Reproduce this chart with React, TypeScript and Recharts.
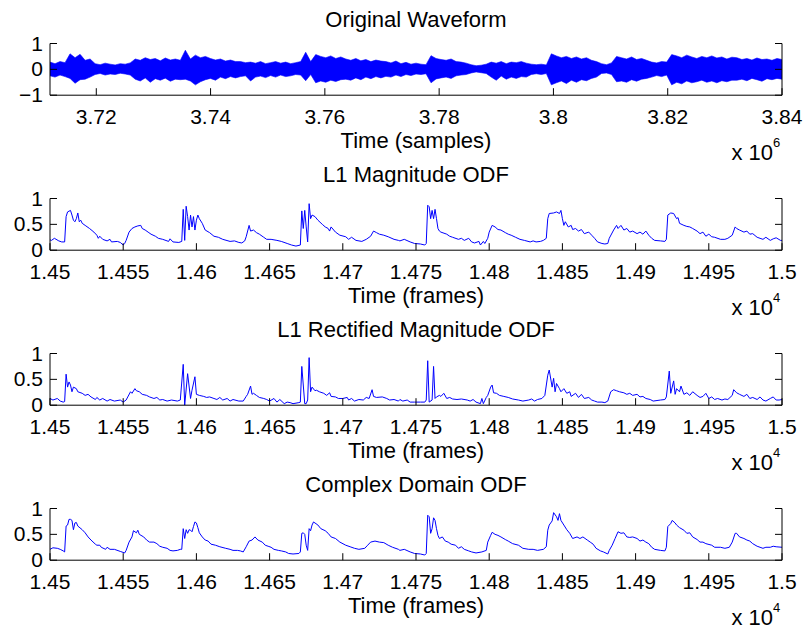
import React from 'react';
import { ComposedChart, Line, Area, XAxis, YAxis } from 'recharts';

const FONT = '"Liberation Sans", Arial, Helvetica, sans-serif';
const BLUE = '#0000ff';
const INK = '#000000';

// ---- Original waveform (envelope of the samples) ----
const waveStart = 3711900;
const waveEnd = 3840000;
const waveHi = [
  0.28, 0.22, 0.3, 0.26, 0.6, 0.45, 0.58, 0.35, 0.4,
  0.22, 0.18, 0.24, 0.2, 0.17, 0.22, 0.2, 0.25,
  0.4, 0.35, 0.45, 0.38, 0.42, 0.33, 0.44, 0.36, 0.4, 0.35,
  0.74, 0.4, 0.55, 0.45, 0.5,
  0.42, 0.36, 0.4, 0.32, 0.36, 0.3,
  0.3, 0.26, 0.28, 0.24, 0.3, 0.22, 0.26, 0.3, 0.24, 0.28, 0.22, 0.26,
  0.3, 0.66, 0.3, 0.57, 0.5, 0.45, 0.52, 0.42, 0.48,
  0.4, 0.35, 0.42, 0.33, 0.38, 0.3, 0.36, 0.32,
  0.3, 0.25, 0.32, 0.22, 0.27, 0.2, 0.24, 0.2, 0.18,
  0.53, 0.42, 0.38, 0.35, 0.4, 0.3, 0.28, 0.24,
  0.18, 0.14, 0.16, 0.2,
  0.28, 0.24, 0.3, 0.22, 0.28, 0.26, 0.3, 0.24,
  0.2, 0.18, 0.2, 0.17,
  0.6, 0.52, 0.45, 0.5, 0.42, 0.48, 0.4, 0.45, 0.35, 0.3,
  0.22, 0.18, 0.25, 0.5, 0.45, 0.4, 0.48, 0.38, 0.42, 0.35,
  0.28, 0.25, 0.3, 0.28, 0.57,
  0.52, 0.45, 0.55, 0.48, 0.42, 0.5, 0.45, 0.52, 0.44, 0.48, 0.4, 0.47,
  0.45, 0.38, 0.42, 0.36, 0.44, 0.38, 0.4, 0.35, 0.42, 0.38,
];
const waveLo = [
  -0.25, -0.3, -0.22, -0.28, -0.35, -0.54, -0.4, -0.38, -0.3,
  -0.2, -0.16, -0.22, -0.18, -0.2, -0.15, -0.18, -0.22,
  -0.38, -0.45, -0.33, -0.5, -0.36, -0.42, -0.34, -0.46, -0.38, -0.4,
  -0.38, -0.45, -0.6, -0.48, -0.4,
  -0.35, -0.42, -0.3, -0.36, -0.28, -0.33,
  -0.28, -0.25, -0.45, -0.3, -0.26, -0.32, -0.24, -0.3, -0.22, -0.28, -0.25, -0.2,
  -0.22, -0.44, -0.2, -0.52, -0.45, -0.5, -0.42, -0.47, -0.4,
  -0.38, -0.42, -0.33, -0.4, -0.3, -0.36, -0.28, -0.33,
  -0.27, -0.3, -0.22, -0.28, -0.2, -0.24, -0.18, -0.2, -0.17,
  -0.52, -0.37, -0.33, -0.3, -0.35, -0.25, -0.22, -0.2,
  -0.14, -0.1, -0.13, -0.16,
  -0.3, -0.42, -0.26, -0.38, -0.3, -0.35, -0.28, -0.3,
  -0.2, -0.17, -0.2, -0.16,
  -0.6, -0.52, -0.45, -0.55, -0.42, -0.5, -0.4, -0.44, -0.35, -0.3,
  -0.16, -0.14, -0.2, -0.48, -0.45, -0.5, -0.4, -0.46, -0.38, -0.35,
  -0.3, -0.24, -0.28, -0.22, -0.6,
  -0.5, -0.56, -0.45, -0.52, -0.48, -0.42, -0.5, -0.45, -0.52, -0.44, -0.48, -0.42,
  -0.42, -0.38, -0.44, -0.35, -0.4, -0.46, -0.36, -0.4, -0.35, -0.38,
];
const waveTicks = [3720000, 3740000, 3760000, 3780000, 3800000, 3820000, 3840000];
const waveYTicks = [-1, 0, 1];

// ---- Onset detection functions, [frame, value] ----
const frameStart = 14500;
const frameEnd = 15000;
const frameTicks = [14500, 14550, 14600, 14650, 14700, 14750, 14800, 14850, 14900, 14950, 15000];
const odfYTicks = [0, 0.5, 1];

const l1MagOdf: [number, number][] = [
  [14500, 0.2], [14501, 0.19], [14503, 0.23], [14506, 0.18], [14508, 0.16], [14510, 0.16],
  [14511, 0.65], [14512, 0.74], [14514, 0.77], [14515, 0.68], [14516, 0.58], [14517, 0.55],
  [14518, 0.61], [14519, 0.72], [14520, 0.55], [14521, 0.58], [14522, 0.52], [14524, 0.48],
  [14527, 0.42], [14530, 0.35], [14532, 0.29], [14533, 0.23], [14534, 0.27], [14536, 0.21],
  [14539, 0.18], [14541, 0.21], [14542, 0.16], [14546, 0.17], [14548, 0.15], [14550, 0.1],
  [14551, 0.13], [14552, 0.19], [14554, 0.35], [14556, 0.42], [14558, 0.45], [14560, 0.47],
  [14562, 0.48], [14563, 0.42], [14565, 0.39], [14567, 0.35], [14569, 0.31], [14572, 0.27],
  [14574, 0.23], [14577, 0.21], [14581, 0.17], [14582, 0.22], [14584, 0.16], [14588, 0.15],
  [14590, 0.17], [14591, 0.79], [14592, 0.19], [14593, 0.85], [14594, 0.65], [14595, 0.39],
  [14596, 0.68], [14597, 0.45], [14598, 0.65], [14599, 0.39], [14600, 0.58], [14601, 0.68],
  [14602, 0.61], [14604, 0.52], [14606, 0.39], [14609, 0.34], [14612, 0.27], [14615, 0.25],
  [14618, 0.21], [14623, 0.17], [14626, 0.18], [14629, 0.15], [14631, 0.14], [14633, 0.18],
  [14634, 0.26], [14636, 0.48], [14637, 0.37], [14639, 0.39], [14641, 0.34], [14643, 0.31],
  [14646, 0.25], [14648, 0.21], [14651, 0.21], [14655, 0.19], [14658, 0.17], [14662, 0.13],
  [14665, 0.1], [14668, 0.08], [14671, 0.1], [14672, 0.76], [14673, 0.42], [14674, 0.77],
  [14675, 0.45], [14676, 0.16], [14677, 0.9], [14678, 0.61], [14679, 0.68], [14681, 0.65],
  [14683, 0.58], [14686, 0.5], [14688, 0.45], [14690, 0.42], [14691, 0.37], [14692, 0.45],
  [14695, 0.35], [14698, 0.29], [14702, 0.26], [14704, 0.21], [14706, 0.25], [14709, 0.19],
  [14713, 0.17], [14716, 0.21], [14719, 0.27], [14721, 0.37], [14723, 0.34], [14725, 0.31],
  [14728, 0.29], [14731, 0.26], [14735, 0.21], [14738, 0.19],
  [14739, 0.18], [14742, 0.21], [14746, 0.16], [14749, 0.13], [14753, 0.12], [14756, 0.1],
  [14757, 0.13], [14758, 0.87], [14759, 0.84], [14760, 0.61], [14761, 0.77], [14762, 0.61],
  [14763, 0.79], [14764, 0.61], [14765, 0.42], [14766, 0.37], [14767, 0.35], [14771, 0.31],
  [14773, 0.27], [14775, 0.25], [14779, 0.21], [14781, 0.23], [14783, 0.19], [14786, 0.23],
  [14788, 0.16], [14790, 0.14], [14793, 0.17], [14794, 0.1], [14796, 0.17], [14797, 0.13],
  [14799, 0.23], [14800, 0.35], [14802, 0.48], [14804, 0.45], [14806, 0.4], [14808, 0.39],
  [14811, 0.34], [14813, 0.31], [14815, 0.29], [14818, 0.25], [14821, 0.21], [14824, 0.19],
  [14828, 0.16], [14830, 0.18], [14832, 0.16], [14835, 0.17], [14837, 0.19], [14839, 0.23],
  [14840, 0.61], [14841, 0.71], [14844, 0.72], [14846, 0.74], [14848, 0.71], [14849, 0.77],
  [14850, 0.61], [14851, 0.48], [14852, 0.55], [14854, 0.45], [14856, 0.48], [14857, 0.4],
  [14859, 0.42], [14861, 0.37], [14863, 0.4], [14865, 0.32], [14868, 0.35], [14870, 0.29],
  [14872, 0.23], [14874, 0.16], [14877, 0.13], [14879, 0.12], [14881, 0.13], [14882, 0.23],
  [14885, 0.39], [14887, 0.48], [14888, 0.42], [14890, 0.48], [14892, 0.39], [14894, 0.42],
  [14896, 0.35], [14898, 0.37], [14901, 0.32], [14903, 0.35], [14905, 0.31], [14907, 0.37],
  [14909, 0.29], [14911, 0.23], [14913, 0.19], [14917, 0.18], [14920, 0.17], [14921, 0.21],
  [14922, 0.68], [14924, 0.72], [14926, 0.71], [14928, 0.61], [14929, 0.63], [14930, 0.52],
  [14933, 0.48], [14935, 0.46], [14937, 0.45], [14939, 0.42], [14942, 0.37], [14944, 0.32],
  [14946, 0.35], [14948, 0.27], [14950, 0.31], [14952, 0.26], [14954, 0.25], [14958, 0.21],
  [14961, 0.21], [14963, 0.23], [14966, 0.29], [14968, 0.45], [14969, 0.42], [14971, 0.39],
  [14974, 0.35], [14976, 0.37], [14978, 0.31], [14980, 0.32], [14983, 0.25], [14985, 0.23],
  [14987, 0.21], [14989, 0.25], [14992, 0.19], [14994, 0.22], [14996, 0.24], [14999, 0.19],
  [15000, 0.19],
];

const l1RectOdf: [number, number][] = [
  [14500, 0.13], [14502, 0.1], [14505, 0.13], [14507, 0.08], [14509, 0.06], [14510, 0.07],
  [14511, 0.6], [14512, 0.35], [14513, 0.45], [14514, 0.39], [14515, 0.26], [14516, 0.35],
  [14518, 0.32], [14519, 0.26], [14522, 0.23], [14524, 0.19], [14526, 0.21], [14528, 0.16],
  [14531, 0.11], [14532, 0.15], [14534, 0.1], [14536, 0.13], [14539, 0.08], [14541, 0.11],
  [14544, 0.08], [14548, 0.1], [14550, 0.06], [14552, 0.1], [14555, 0.26], [14556, 0.23],
  [14558, 0.32], [14559, 0.28], [14561, 0.26], [14563, 0.21], [14566, 0.19], [14568, 0.16],
  [14571, 0.13], [14573, 0.15], [14575, 0.1], [14577, 0.11], [14580, 0.08], [14583, 0.1],
  [14587, 0.08], [14589, 0.1], [14591, 0.79], [14592, 0], [14594, 0.61], [14596, 0.13],
  [14597, 0.29], [14599, 0.55], [14600, 0.21], [14602, 0.19], [14605, 0.17], [14607, 0.15],
  [14609, 0.16], [14612, 0.13], [14614, 0.11], [14616, 0.15], [14618, 0.1], [14621, 0.13],
  [14623, 0.08], [14625, 0.11], [14629, 0.08], [14632, 0.08], [14634, 0.17], [14635, 0.21],
  [14637, 0.37], [14638, 0.21], [14639, 0.23], [14641, 0.19], [14643, 0.15], [14646, 0.13],
  [14648, 0.11], [14650, 0.08], [14653, 0.13], [14655, 0.06], [14657, 0.11], [14660, 0.03],
  [14662, 0.06], [14664, 0.05], [14666, 0.03], [14670, 0.05], [14671, 0.06], [14672, 0.75],
  [14674, 0.03], [14675, 0.03], [14676, 0.1], [14677, 0.92], [14678, 0.26], [14679, 0.35],
  [14681, 0.28], [14682, 0.29], [14684, 0.26], [14687, 0.23], [14689, 0.19], [14691, 0.24],
  [14692, 0.17], [14695, 0.16], [14697, 0.13], [14700, 0.13], [14703, 0.15], [14704, 0.1],
  [14706, 0.13], [14708, 0.08], [14711, 0.11], [14714, 0.1], [14716, 0.15], [14718, 0.13],
  [14720, 0.3], [14721, 0.17], [14723, 0.15], [14727, 0.16], [14730, 0.13], [14732, 0.1],
  [14735, 0.11], [14738, 0.08],
  [14739, 0.11], [14741, 0.08], [14744, 0.1], [14746, 0.06], [14749, 0.06], [14753, 0.06],
  [14756, 0.06], [14757, 0.1], [14758, 0.86], [14759, 0.06], [14761, 0.1], [14762, 0.75],
  [14763, 0.13], [14764, 0.16], [14766, 0.19], [14767, 0.17], [14769, 0.23], [14771, 0.13],
  [14773, 0.15], [14775, 0.12], [14778, 0.11], [14781, 0.12], [14785, 0.1], [14787, 0.08],
  [14789, 0.11], [14791, 0.06], [14794, 0.03], [14795, 0.13], [14796, 0.03], [14798, 0.15],
  [14799, 0.19], [14801, 0.35], [14802, 0.39], [14803, 0.24], [14805, 0.23], [14807, 0.19],
  [14810, 0.17], [14813, 0.15], [14816, 0.12], [14820, 0.1], [14823, 0.08], [14827, 0.1],
  [14829, 0.12], [14831, 0.08], [14833, 0.11], [14836, 0.13], [14838, 0.19], [14840, 0.58],
  [14841, 0.68], [14843, 0.35], [14844, 0.52], [14845, 0.26], [14846, 0.42], [14848, 0.32],
  [14849, 0.26], [14851, 0.32], [14853, 0.23], [14855, 0.26], [14856, 0.17], [14859, 0.23],
  [14861, 0.15], [14863, 0.21], [14865, 0.13], [14868, 0.15], [14870, 0.1], [14872, 0.08],
  [14874, 0.06], [14877, 0.06], [14879, 0.05], [14881, 0.08], [14883, 0.26], [14885, 0.3],
  [14887, 0.28], [14889, 0.26], [14892, 0.24], [14894, 0.21], [14896, 0.23], [14898, 0.19],
  [14901, 0.21], [14903, 0.16], [14905, 0.17], [14907, 0.13], [14910, 0.11], [14912, 0.08],
  [14917, 0.1], [14920, 0.11], [14921, 0.16], [14923, 0.66], [14924, 0.23], [14926, 0.47],
  [14927, 0.21], [14928, 0.32], [14930, 0.26], [14931, 0.37], [14933, 0.21], [14935, 0.24],
  [14937, 0.19], [14939, 0.26], [14942, 0.19], [14944, 0.15], [14946, 0.17], [14948, 0.23],
  [14950, 0.13], [14952, 0.16], [14954, 0.11], [14956, 0.13], [14959, 0.1], [14961, 0.12],
  [14963, 0.11], [14966, 0.19], [14967, 0.3], [14969, 0.24], [14971, 0.21], [14974, 0.17],
  [14976, 0.21], [14978, 0.13], [14980, 0.15], [14983, 0.11], [14985, 0.16], [14987, 0.1],
  [14989, 0.08], [14992, 0.13], [14994, 0.16], [14996, 0.1], [14998, 0.1], [15000, 0.11],
];

const complexOdf: [number, number][] = [
  [14500, 0.21], [14502, 0.24], [14505, 0.23], [14507, 0.21], [14509, 0.18], [14510, 0.16],
  [14511, 0.66], [14512, 0.68], [14513, 0.79], [14514, 0.79], [14515, 0.77], [14516, 0.59],
  [14517, 0.72], [14518, 0.73], [14519, 0.66], [14522, 0.59], [14524, 0.53], [14526, 0.45],
  [14528, 0.39], [14531, 0.31], [14532, 0.29], [14534, 0.29], [14535, 0.25], [14538, 0.21],
  [14539, 0.25], [14541, 0.21], [14544, 0.21], [14548, 0.17], [14551, 0.14], [14552, 0.19],
  [14554, 0.35], [14556, 0.45], [14557, 0.57], [14559, 0.53], [14560, 0.58], [14561, 0.5],
  [14564, 0.45], [14566, 0.39], [14568, 0.35], [14571, 0.35], [14573, 0.32], [14575, 0.27],
  [14577, 0.25], [14580, 0.23], [14582, 0.19], [14584, 0.18], [14587, 0.19], [14589, 0.21],
  [14590, 0.21], [14591, 0.61], [14592, 0.42], [14593, 0.59], [14594, 0.52], [14595, 0.59],
  [14596, 0.58], [14597, 0.55], [14598, 0.65], [14599, 0.74], [14600, 0.72], [14601, 0.63],
  [14602, 0.53], [14604, 0.45], [14606, 0.39], [14608, 0.37], [14610, 0.31], [14613, 0.29],
  [14616, 0.26], [14620, 0.23], [14623, 0.21], [14625, 0.19], [14628, 0.19], [14630, 0.18],
  [14632, 0.16], [14634, 0.26], [14636, 0.37], [14638, 0.39], [14640, 0.45], [14642, 0.39],
  [14645, 0.35], [14647, 0.29], [14649, 0.27], [14651, 0.25], [14653, 0.21], [14656, 0.19],
  [14658, 0.18], [14661, 0.16], [14663, 0.13], [14666, 0.12], [14670, 0.13], [14671, 0.16],
  [14672, 0.52], [14673, 0.53], [14674, 0.5], [14675, 0.29], [14676, 0.19], [14677, 0.61],
  [14678, 0.57], [14679, 0.68], [14680, 0.74], [14681, 0.72], [14683, 0.68], [14685, 0.61],
  [14688, 0.57], [14690, 0.52], [14692, 0.45], [14695, 0.42], [14698, 0.35], [14702, 0.29],
  [14705, 0.26], [14708, 0.23], [14711, 0.21], [14715, 0.23], [14717, 0.29], [14719, 0.35],
  [14722, 0.37], [14725, 0.35], [14728, 0.34], [14731, 0.29], [14734, 0.25], [14738, 0.21],
  [14739, 0.19], [14742, 0.21], [14746, 0.16], [14749, 0.13], [14753, 0.12], [14756, 0.1],
  [14757, 0.13], [14758, 0.87], [14759, 0.84], [14760, 0.52], [14761, 0.61], [14762, 0.82],
  [14763, 0.77], [14764, 0.61], [14765, 0.48], [14766, 0.42], [14768, 0.45], [14770, 0.37],
  [14772, 0.35], [14774, 0.31], [14777, 0.29], [14779, 0.23], [14781, 0.26], [14783, 0.21],
  [14786, 0.18], [14788, 0.16], [14791, 0.14], [14795, 0.16], [14798, 0.19], [14799, 0.35],
  [14801, 0.48], [14802, 0.54], [14804, 0.5], [14806, 0.48], [14808, 0.45], [14811, 0.4],
  [14813, 0.37], [14816, 0.32], [14820, 0.29], [14823, 0.23], [14827, 0.21], [14830, 0.21],
  [14833, 0.19], [14837, 0.21], [14839, 0.26], [14840, 0.58], [14841, 0.68], [14843, 0.76],
  [14844, 0.92], [14846, 0.84], [14847, 0.77], [14848, 0.9], [14849, 0.77], [14851, 0.68],
  [14853, 0.59], [14855, 0.52], [14857, 0.42], [14860, 0.45], [14862, 0.42], [14864, 0.45],
  [14867, 0.39], [14869, 0.35], [14871, 0.31], [14873, 0.23], [14876, 0.18], [14878, 0.16],
  [14881, 0.12], [14882, 0.19], [14884, 0.29], [14886, 0.42], [14888, 0.55], [14890, 0.52],
  [14892, 0.53], [14894, 0.45], [14896, 0.44], [14898, 0.45], [14901, 0.42], [14903, 0.37],
  [14905, 0.39], [14907, 0.35], [14909, 0.32], [14911, 0.25], [14913, 0.21], [14917, 0.19],
  [14920, 0.18], [14921, 0.25], [14922, 0.65], [14924, 0.71], [14925, 0.77], [14927, 0.72],
  [14928, 0.68], [14930, 0.63], [14933, 0.58], [14935, 0.52], [14937, 0.53], [14939, 0.45],
  [14942, 0.4], [14944, 0.35], [14946, 0.35], [14948, 0.32], [14952, 0.29], [14954, 0.25],
  [14958, 0.25], [14961, 0.23], [14964, 0.25], [14966, 0.35], [14968, 0.52], [14969, 0.52],
  [14971, 0.45], [14974, 0.42], [14976, 0.39], [14978, 0.37], [14980, 0.32], [14983, 0.27],
  [14985, 0.25], [14987, 0.23], [14989, 0.25], [14992, 0.25], [14994, 0.27], [14996, 0.26],
  [15000, 0.25],
];

const panelTitles = ['Original Waveform', 'L1 Magnitude ODF', 'L1 Rectified Magnitude ODF', 'Complex Domain ODF'];
const xLabels = ['Time (samples)', 'Time (frames)', 'Time (frames)', 'Time (frames)'];
const exponents = ['6', '4', '4', '4'];

// layout
const W = 804;
const H = 629;
const PANEL_H = 155;
const PLOT_TOP = 43.5;
const PLOT_H = 51.7;
const LEFT_W = 50;
const RIGHT_W = 22;
const TICK_LEN = 7;
const TICK_FS = 21;
const LABEL_FS = 22;

const waveRows = waveHi.slice(0, Math.min(waveHi.length, waveLo.length)).map((hi, i, arr) => ({
  x: waveStart + ((waveEnd - waveStart) * i) / (arr.length - 1),
  range: [waveLo[i], hi],
}));
const toRows = (pts: [number, number][]) => pts.map(([x, v]) => ({ x, v }));

const fmtScaled = (div: number) => (v: number) => String(parseFloat((v / div).toFixed(4)));
const fmtY = (v: number) => (v < 0 ? '\u2212' + String(-v) : String(v));

function BottomTick(props: any) {
  const { x, y, payload, fmt } = props;
  return (
    <g>
      <line x1={x} y1={y} x2={x} y2={y - TICK_LEN} stroke={INK} strokeWidth={1} />
      <text x={x} y={y + 28.5} textAnchor="middle" fontSize={TICK_FS} fontFamily={FONT} fill={INK}>
        {fmt(payload.value)}
      </text>
    </g>
  );
}

function TopTick(props: any) {
  const { x, y } = props;
  return <line x1={x} y1={y} x2={x} y2={y + TICK_LEN} stroke={INK} strokeWidth={1} />;
}

function LeftTick(props: any) {
  const { x, y, payload } = props;
  return (
    <g>
      <line x1={x} y1={y} x2={x + TICK_LEN} y2={y} stroke={INK} strokeWidth={1} />
      <text x={x - 7} y={y + 7} textAnchor="end" fontSize={TICK_FS} fontFamily={FONT} fill={INK}>
        {fmtY(payload.value)}
      </text>
    </g>
  );
}

function RightTick(props: any) {
  const { x, y } = props;
  return <line x1={x} y1={y} x2={x - TICK_LEN} y2={y} stroke={INK} strokeWidth={1} />;
}

function Panel({
  index,
  data,
  xDomain,
  xTicks,
  xDiv,
  yDomain,
  yTicks,
  children,
}: {
  index: number;
  data: any[];
  xDomain: [number, number];
  xTicks: number[];
  xDiv: number;
  yDomain: [number, number];
  yTicks: number[];
  children: React.ReactNode;
}) {
  const fmt = fmtScaled(xDiv);
  const axisLine = { stroke: INK, strokeWidth: 1 };
  return (
    <div style={{ position: 'absolute', left: 0, top: index * PANEL_H }}>
      <ComposedChart
        width={W}
        height={PANEL_H}
        data={data}
        margin={{ top: PLOT_TOP, right: 0, bottom: 0, left: 0 }}
      >
        <XAxis
          xAxisId="b"
          type="number"
          dataKey="x"
          domain={xDomain}
          ticks={xTicks}
          interval={0}
          allowDataOverflow
          height={PANEL_H - PLOT_TOP - PLOT_H}
          tickSize={0}
          tickMargin={0}
          tickLine={false}
          axisLine={axisLine}
          tick={(p: any) => <BottomTick {...p} fmt={fmt} />}
        />
        <XAxis
          xAxisId="t"
          orientation="top"
          type="number"
          dataKey="x"
          domain={xDomain}
          ticks={xTicks}
          interval={0}
          allowDataOverflow
          height={0}
          tickSize={0}
          tickMargin={0}
          tickLine={false}
          axisLine={axisLine}
          tick={(p: any) => <TopTick {...p} />}
        />
        <YAxis
          yAxisId="l"
          type="number"
          domain={yDomain}
          ticks={yTicks}
          interval={0}
          allowDataOverflow
          width={LEFT_W}
          tickSize={0}
          tickMargin={0}
          tickLine={false}
          axisLine={axisLine}
          tick={(p: any) => <LeftTick {...p} />}
        />
        <YAxis
          yAxisId="r"
          orientation="right"
          type="number"
          domain={yDomain}
          ticks={yTicks}
          interval={0}
          allowDataOverflow
          width={RIGHT_W}
          tickSize={0}
          tickMargin={0}
          tickLine={false}
          axisLine={axisLine}
          tick={(p: any) => <RightTick {...p} />}
        />
        {children}
      </ComposedChart>
    </div>
  );
}

function Texts() {
  const cx = LEFT_W + (W - LEFT_W - RIGHT_W) / 2;
  return (
    <svg
      width={W}
      height={H}
      style={{ position: 'absolute', left: 0, top: 0, pointerEvents: 'none' }}
      fontFamily={FONT}
      fill={INK}
    >
      {panelTitles.map((t, i) => {
        const top = i * PANEL_H + PLOT_TOP;
        const bottom = top + PLOT_H;
        return (
          <g key={t}>
            <text x={cx} y={top - 16.5} textAnchor="middle" fontSize={LABEL_FS}>
              {t}
            </text>
            <text x={cx} y={bottom + 53} textAnchor="middle" fontSize={LABEL_FS}>
              {xLabels[i]}
            </text>
            <text x={731.5} y={bottom + 64.5} fontSize={LABEL_FS}>
              x 10
            </text>
            <text x={773} y={bottom + 51.5} fontSize={13}>
              {exponents[i]}
            </text>
          </g>
        );
      })}
    </svg>
  );
}

export default function App() {
  const odfs = [l1MagOdf, l1RectOdf, complexOdf];
  return (
    <div style={{ position: 'absolute', left: 0, top: 0, width: W, height: H, background: '#fff' }}>
      <Panel
        index={0}
        data={waveRows}
        xDomain={[waveStart, waveEnd]}
        xTicks={waveTicks}
        xDiv={1e6}
        yDomain={[-1, 1]}
        yTicks={waveYTicks}
      >
        <Area
          xAxisId="b"
          yAxisId="l"
          type="linear"
          dataKey="range"
          stroke={BLUE}
          strokeWidth={0.6}
          fill={BLUE}
          fillOpacity={1}
          dot={false}
          activeDot={false}
          isAnimationActive={false}
        />
      </Panel>
      {odfs.map((pts, i) => (
        <Panel
          key={i}
          index={i + 1}
          data={toRows(pts)}
          xDomain={[frameStart, frameEnd]}
          xTicks={frameTicks}
          xDiv={1e4}
          yDomain={[0, 1]}
          yTicks={odfYTicks}
        >
          <Line
            xAxisId="b"
            yAxisId="l"
            type="linear"
            dataKey="v"
            stroke={BLUE}
            strokeWidth={1}
            dot={false}
            activeDot={false}
            isAnimationActive={false}
          />
        </Panel>
      ))}
      <Texts />
    </div>
  );
}
